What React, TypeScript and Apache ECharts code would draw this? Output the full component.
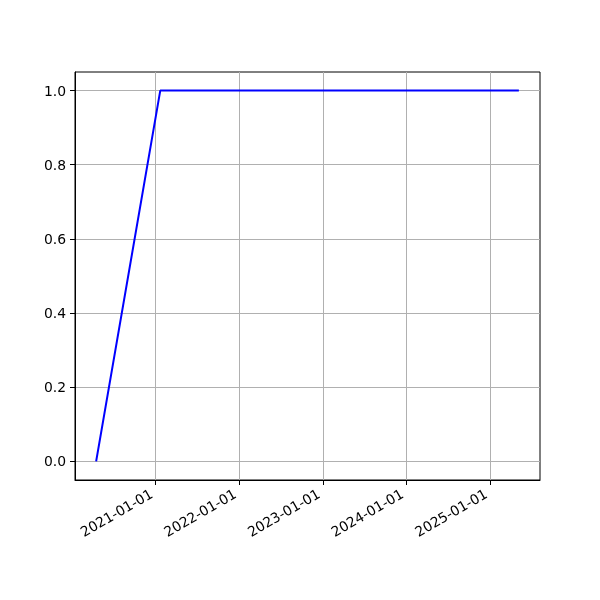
import React, { useEffect, useRef } from "react";
import * as echarts from "echarts";

const dates = ["2020-04-16", "2021-01-21", "2025-05-06"];
const values = [0, 1, 1];
const xTickLabels = ["2021-01-01", "2022-01-01", "2023-01-01", "2024-01-01", "2025-01-01"];
const yTicks = [0, 0.2, 0.4, 0.6, 0.8, 1.0];

const ts = (s: string) => {
  const [y, m, d] = s.split("-").map(Number);
  return Date.UTC(y, m - 1, d);
};

export default function App() {
  const ref = useRef<HTMLDivElement>(null);
  useEffect(() => {
    if (!ref.current) return;
    const chart = echarts.init(ref.current, undefined, { renderer: "svg" });
    const xs = dates.map(ts);
    const t0 = Math.min(...xs);
    const t1 = Math.max(...xs);
    const pad = (t1 - t0) * 0.05;
    const xTicks = xTickLabels.map(ts);
    const font = "DejaVu Sans";
    chart.setOption({
      animation: false,
      grid: {
        left: 75,
        right: 60,
        top: 72,
        bottom: 120,
        show: true,
        borderColor: "#000",
        borderWidth: 1,
        backgroundColor: "transparent",
      },
      xAxis: {
        type: "value",
        min: t0 - pad,
        max: t1 + pad,
        axisLine: { show: true, onZero: false, lineStyle: { color: "#000", width: 1 } },
        axisTick: { show: true, length: 5, lineStyle: { color: "#000", width: 1 }, customValues: xTicks },
        axisLabel: {
          customValues: xTicks,
          rotate: 30,
          margin: 10,
          padding: [0, 5, 0, 0],
          color: "#000",
          fontFamily: font,
          fontSize: 13.9,
          formatter: (v: number) => {
            const d = new Date(v);
            const p = (n: number) => String(n).padStart(2, "0");
            return `${d.getUTCFullYear()}-${p(d.getUTCMonth() + 1)}-${p(d.getUTCDate())}`;
          },
        },
        splitLine: { show: true, lineStyle: { color: "#b0b0b0", width: 1 } },
      },
      yAxis: {
        type: "value",
        min: -0.05,
        max: 1.05,
        axisLine: { show: true, lineStyle: { color: "#000", width: 1 } },
        axisTick: { show: true, length: 5, lineStyle: { color: "#000", width: 1 }, customValues: yTicks },
        axisLabel: {
          customValues: yTicks,
          margin: 9,
          color: "#000",
          fontFamily: font,
          fontSize: 13.9,
          formatter: (v: number) => v.toFixed(1),
        },
        splitLine: { show: true, lineStyle: { color: "#b0b0b0", width: 1 } },
      },
      series: [
        {
          type: "line",
          data: xs.map((x, i) => [x, values[i]]),
          showSymbol: false,
          symbol: "none",
          lineStyle: { color: "#0000ff", width: 2 },
          itemStyle: { color: "#0000ff" },
        },
      ],
    });
    return () => chart.dispose();
  }, []);
  return <div ref={ref} style={{ position: "fixed", left: 0, top: 0, width: 600, height: 600 }} />;
}
